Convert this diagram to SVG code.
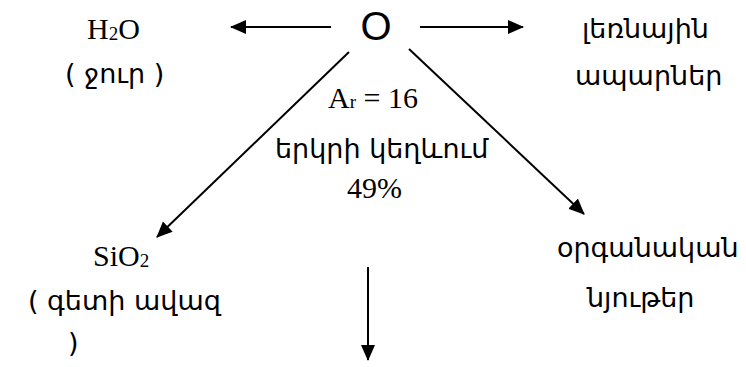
<svg xmlns="http://www.w3.org/2000/svg" width="746" height="367" viewBox="0 0 746 367">
<style>
.arm{font-family:"DejaVu Sans",sans-serif;font-size:27px;fill:#000}
.ser{font-family:"Liberation Serif",serif;font-size:30px;fill:#000}
.big{font-family:"Liberation Sans",sans-serif;font-size:40px;fill:#000}
.ln{stroke:#000;stroke-width:2;fill:none}
</style>
<defs>
<marker id="ah" markerUnits="userSpaceOnUse" markerWidth="16" markerHeight="16" viewBox="0 0 16 16" refX="15" refY="8" orient="auto">
<path d="M0,1 L16,8 L0,15 Z" fill="#000"/>
</marker>
</defs>
<g id="connectors">
<line class="ln" x1="331" y1="27" x2="231" y2="27" marker-end="url(#ah)"/>
<line class="ln" x1="420" y1="27" x2="523" y2="27" marker-end="url(#ah)"/>
<line class="ln" x1="349" y1="52" x2="157" y2="237" marker-end="url(#ah)"/>
<line class="ln" x1="409" y1="49" x2="584" y2="214" marker-end="url(#ah)"/>
<line class="ln" x1="368" y1="267" x2="368" y2="360" marker-end="url(#ah)"/>
</g>
<g id="oxygen"><text class="big" x="376" y="40" text-anchor="middle">O</text></g>
<g id="water">
<text class="ser" x="87" y="39">H<tspan font-size="19" dy="1">2</tspan><tspan dy="-1">O</tspan></text>
<text class="arm" x="65" y="83">( ջուր )</text>
</g>
<g id="rocks">
<text class="arm" x="582" y="38">լեռնային</text>
<text class="arm" x="575" y="85">ապարներ</text>
</g>
<g id="info">
<text class="ser" x="328" y="108">A<tspan font-size="19">r</tspan> = 16</text>
<text class="arm" x="275" y="158">երկրի կեղևում</text>
<text class="ser" x="347" y="198">49%</text>
</g>
<g id="sand">
<text class="ser" x="93" y="266">SiO<tspan font-size="19" dy="1">2</tspan></text>
<text class="arm" x="28" y="310">( գետի ավազ</text>
<text class="arm" x="68" y="352">)</text>
</g>
<g id="organic">
<text class="arm" x="557" y="257">օրգանական</text>
<text class="arm" x="587" y="307">նյութեր</text>
</g>
</svg>
